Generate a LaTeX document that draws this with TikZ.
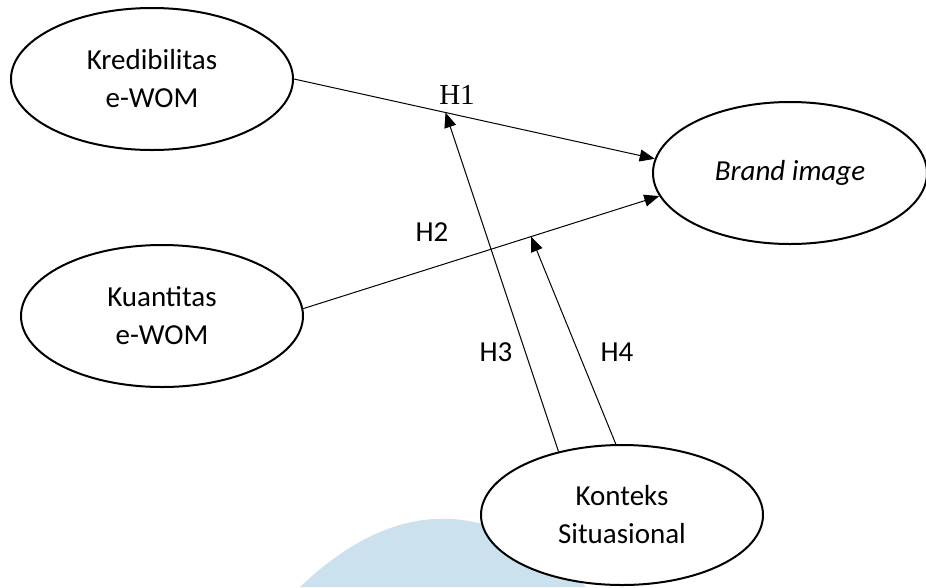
\documentclass[tikz,border=0pt]{standalone}
\usepackage{fontspec}
\setmainfont{Carlito}
\newfontfamily\timesfont{Liberation Serif}
\usepackage{xcolor}
\usetikzlibrary{shapes.geometric,arrows.meta,calc}
\definecolor{watermark}{RGB}{204,225,238}

\begin{document}
\begin{tikzpicture}[x=1pt, y=-1pt, font=\fontsize{29}{38}\selectfont,
		variabel/.style={ellipse, draw, line width=2pt, fill=white, inner sep=0pt, align=center,
			minimum width=282, minimum height=142},
		panah/.style={line width=1pt, -{Triangle[length=15pt, width=12pt]}}]
		\useasboundingbox (0,0) rectangle (926,587);
		\fill[watermark] (300,587) .. controls (395,496) and (491,496) .. (586,587) -- cycle;
		
		\node[variabel] (kred) at (152,79) {Kredibilitas\\e-WOM};
		\node[variabel] (kuan) at (162,316) {Kuantitas\\e-WOM};
		\node[variabel, minimum width=274] (brand) at (790,173) {\textit{Brand image}};
		\node[variabel, minimum height=140] (konteks) at (622,515) {Konteks\\Situasional};
		
		\coordinate (tH1) at ($(kred.east)!0.42!(brand.174)$);
		\coordinate (tH2) at ($(kuan.3)!0.64!(brand.190)$);
		
		\draw[panah] (kred.east) -- (brand.174);
		\draw[panah] (kuan.3) -- (brand.190);
		\draw[panah] (konteks.135) -- (tH1);
		\draw[panah] (konteks.95) -- (tH2);
		
		\node (lH1) at (457,95) {\timesfont H1};
		\node (lH2) at (432,232) {H2};
		\node (lH3) at (496,352) {H3};
		\node (lH4) at (617,352) {H4};
	\end{tikzpicture}
\end{document}
